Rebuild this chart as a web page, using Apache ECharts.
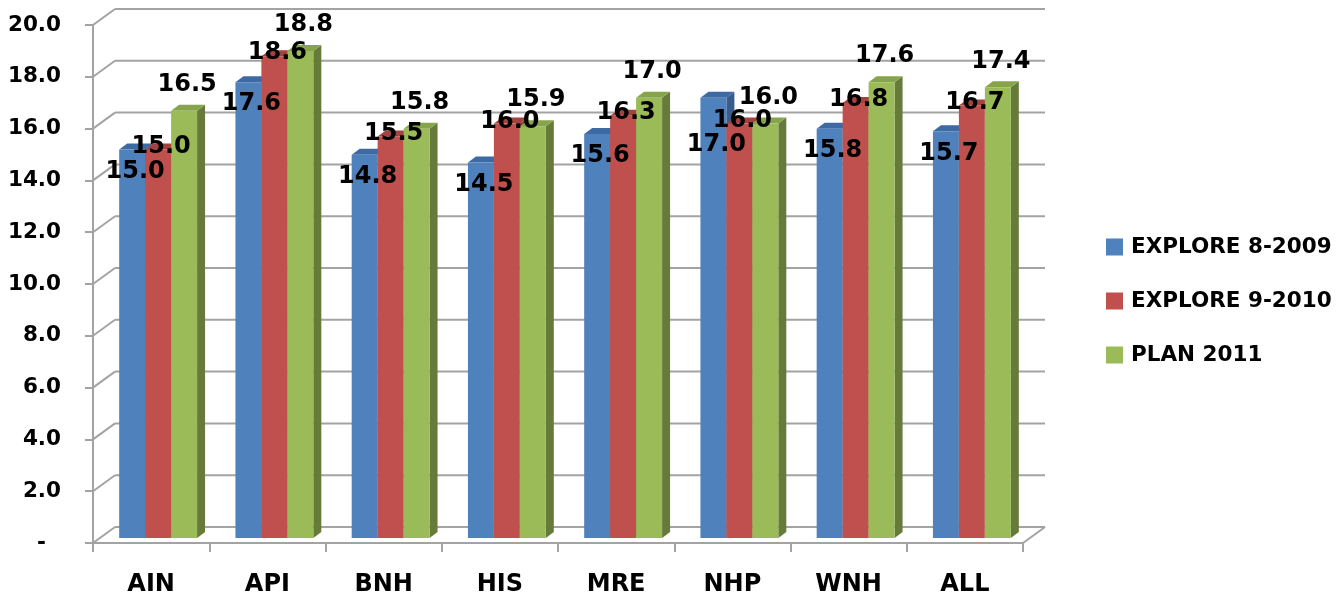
<!DOCTYPE html>
<html>
<head>
<meta charset="utf-8">
<script src="https://cdn.jsdelivr.net/npm/echarts@6/dist/echarts.min.js"></script>
<style>
  html, body { margin: 0; padding: 0; background: #ffffff; }
  #chart { width: 1343px; height: 598px; }
</style>
</head>
<body>
<div id="chart"></div>
<script>
// Categories and series values
const categories = ['AIN', 'API', 'BNH', 'HIS', 'MRE', 'NHP', 'WNH', 'ALL'];
const seriesNames = ['EXPLORE 8-2009', 'EXPLORE 9-2010', 'PLAN 2011'];
const explore2009 = [15.0, 17.6, 14.8, 14.5, 15.6, 17.0, 15.8, 15.7];
const explore2010 = [15.0, 18.6, 15.5, 16.0, 16.3, 16.0, 16.8, 16.7];
const plan2011 = [16.5, 18.8, 15.8, 15.9, 17.0, 16.0, 17.6, 17.4];
const yMin = 0, yMax = 20, yStep = 2;

const allValues = [explore2009, explore2010, plan2011];

// Face colours: front, top, side
const palette = [
  { front: '#4f81bd', top: '#3d6aa3', side: '#385d8a' },
  { front: '#c0504d', top: '#a5413e', side: '#8c3836' },
  { front: '#9bbb59', top: '#86a54a', side: '#667b3a' }
];

// Pseudo-3D geometry (pixels)
const WALL_DX = 22, WALL_DY = -16;   // depth of the back wall
const BAR_DX = 7, BAR_DY = -5;       // bar front face depth
const SIDE_DX = 8, SIDE_DY = -6;     // bar thickness in depth
const GROUP_FRAC = 0.67;             // share of band used by the three bars
const GRID_COLOR = '#a3a3a3';
const FONT = 'DejaVu Sans';

const chart = echarts.init(document.getElementById('chart'), null, { renderer: 'canvas' });

function barGeom(api, s, c, v) {
  const band = api.size([1, 0])[0];
  const bw = band * GROUP_FRAC / 3;
  const center = api.coord([c, v]);
  const base = api.coord([c, 0]);
  const x0 = center[0] - 1.5 * bw + s * bw + BAR_DX;
  return { x0: x0, x1: x0 + bw, yTop: center[1] + BAR_DY, yBot: base[1] + BAR_DY };
}

// Back wall, left wall and floor outlines
function renderFrame(params, api) {
  const cs = params.coordSys;
  const L = cs.x, R = cs.x + cs.width;
  const children = [];
  const lineStyle = { stroke: GRID_COLOR, lineWidth: 2 };
  for (let v = yMin; v <= yMax + 1e-9; v += yStep) {
    const y = api.coord([0, v])[1];
    children.push({ type: 'line', shape: { x1: L + WALL_DX, y1: y + WALL_DY, x2: R + WALL_DX, y2: y + WALL_DY }, style: lineStyle });
    children.push({ type: 'line', shape: { x1: L, y1: y, x2: L + WALL_DX, y2: y + WALL_DY }, style: lineStyle });
  }
  const y0 = api.coord([0, yMin])[1];
  children.push({ type: 'line', shape: { x1: R, y1: y0, x2: R + WALL_DX, y2: y0 + WALL_DY }, style: lineStyle });
  return { type: 'group', children: children };
}

function makeBarRender(s) {
  return function (params, api) {
    const c = api.value(0), v = api.value(1);
    const g = barGeom(api, s, c, v);
    const col = palette[s];
    return {
      type: 'group',
      children: [
        { type: 'polygon', shape: { points: [[g.x1, g.yTop], [g.x1 + SIDE_DX, g.yTop + SIDE_DY], [g.x1 + SIDE_DX, g.yBot + SIDE_DY], [g.x1, g.yBot]] }, style: { fill: col.side } },
        { type: 'polygon', shape: { points: [[g.x0, g.yTop], [g.x1, g.yTop], [g.x1 + SIDE_DX, g.yTop + SIDE_DY], [g.x0 + SIDE_DX, g.yTop + SIDE_DY]] }, style: { fill: col.top } },
        { type: 'rect', shape: { x: g.x0, y: g.yTop, width: g.x1 - g.x0, height: g.yBot - g.yTop }, style: { fill: col.front } }
      ]
    };
  };
}

// Value labels, placed to keep neighbouring labels apart
function renderLabel(params, api) {
  const c = api.value(0), s = api.value(2);
  const tops = [0, 1, 2].map(function (k) { return barGeom(api, k, c, allValues[k][c]); });
  const yG = tops[2].yTop - 26;
  let yR = tops[1].yTop - 3;
  if (Math.abs(yR - yG) < 22) yR = yG + 22;
  const yB = Math.max(tops[0].yTop + 22, yR + 24);
  const ys = [yB, yR, yG];
  const g = tops[s];
  return {
    type: 'text',
    style: {
      text: allValues[s][c].toFixed(1),
      x: (g.x0 + g.x1) / 2 + 3,
      y: ys[s],
      align: 'center',
      verticalAlign: 'middle',
      fill: '#000000',
      fontSize: 24,
      fontWeight: 'bold',
      fontFamily: FONT
    }
  };
}

const barSeries = allValues.map(function (vals, s) {
  return {
    name: seriesNames[s],
    type: 'custom',
    z: 3,
    itemStyle: { color: palette[s].front },
    renderItem: makeBarRender(s),
    encode: { x: 0, y: 1 },
    data: vals.map(function (v, c) { return [c, v]; })
  };
});

const labelData = [];
allValues.forEach(function (vals, s) {
  vals.forEach(function (v, c) { labelData.push([c, v, s]); });
});

const option = {
  backgroundColor: '#ffffff',
  animation: false,
  grid: { left: 93, top: 25, width: 930, height: 518, containLabel: false },
  legend: {
    orient: 'vertical',
    left: 1106,
    top: 236,
    padding: 0,
    itemWidth: 17,
    itemHeight: 17,
    itemGap: 32,
    icon: 'rect',
    data: seriesNames,
    textStyle: { fontFamily: FONT, fontWeight: 'bold', fontSize: 21.5, color: '#000', padding: [0, 0, 0, 3], lineHeight: 19 }
  },
  xAxis: {
    type: 'category',
    data: categories,
    boundaryGap: true,
    axisLine: { show: true, lineStyle: { color: GRID_COLOR, width: 2 } },
    axisTick: { show: true, length: 9, lineStyle: { color: GRID_COLOR, width: 2 } },
    axisLabel: { margin: 30, color: '#000', fontFamily: FONT, fontWeight: 'bold', fontSize: 24 },
    splitLine: { show: false }
  },
  yAxis: {
    type: 'value',
    min: yMin,
    max: yMax,
    interval: yStep,
    axisLine: { show: true, lineStyle: { color: GRID_COLOR, width: 2 } },
    axisTick: { show: true, length: 8, lineStyle: { color: GRID_COLOR, width: 2 } },
    axisLabel: {
      margin: 32,
      color: '#000',
      fontFamily: FONT,
      fontWeight: 'bold',
      fontSize: 21.5,
      formatter: function (v) { return v === 0 ? '-  ' : v.toFixed(1); }
    },
    splitLine: { show: false }
  },
  series: [
    {
      name: 'frame',
      type: 'custom',
      z: 1,
      silent: true,
      renderItem: renderFrame,
      encode: { x: 0, y: 1 },
      data: [[0, 0]]
    }
  ].concat(barSeries).concat([
    {
      name: 'values',
      type: 'custom',
      z: 5,
      silent: true,
      renderItem: renderLabel,
      encode: { x: 0, y: 1 },
      data: labelData
    }
  ])
};

chart.setOption(option);
</script>
</body>
</html>
